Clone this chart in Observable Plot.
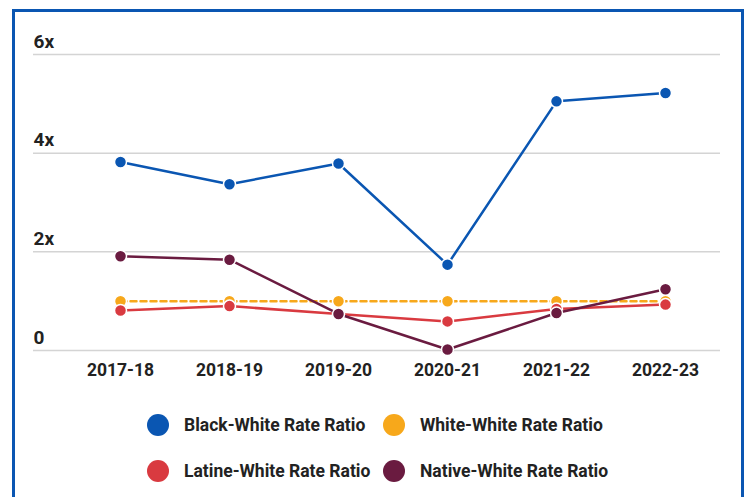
<!DOCTYPE html>
<html>
<head>
<meta charset="utf-8">
<script src="https://cdn.jsdelivr.net/npm/d3@7"></script>
<script src="https://cdn.jsdelivr.net/npm/@observablehq/plot@0.6"></script>
<style>
  html, body { margin: 0; padding: 0; background: #fff; width: 748px; height: 497px; overflow: hidden; }
  body { position: relative; font-family: Roboto, "Liberation Sans", sans-serif; }
  #frame { position: absolute; left: 12px; top: 9px; width: 726px; height: 520px; border: 3px solid #0a56b2; pointer-events: none; }
  #chart { position: absolute; left: 0; top: 0; }
  #legend { position: absolute; left: 0; top: 0; width: 748px; }
  .item { position: absolute; display: flex; align-items: center; font-weight: 700; font-size: 17.5px; color: #222; white-space: nowrap; }
  .sw { width: 22px; height: 22px; border-radius: 50%; margin-right: 15px; flex: none; }
</style>
</head>
<body>
<div id="chart"></div>
<div id="legend"></div>
<div id="frame"></div>
<script>
const years = ["2017-18", "2018-19", "2019-20", "2020-21", "2021-22", "2022-23"];
const seriesNames = ["White-White Rate Ratio", "Latine-White Rate Ratio", "Native-White Rate Ratio", "Black-White Rate Ratio"];
const seriesColors = ["#f7a81b", "#d93a40", "#6a1b40", "#0a56b2"];
const blackWhite = [3.82, 3.37, 3.79, 1.74, 5.05, 5.22];
const whiteWhite = [1.0, 1.0, 1.0, 1.0, 1.0, 1.0];
const latineWhite = [0.81, 0.90, 0.74, 0.59, 0.84, 0.93];
const nativeWhite = [1.91, 1.84, 0.74, 0.02, 0.76, 1.24];
const yTicks = [0, 2, 4, 6];
const yTickLabels = ["0", "2x", "4x", "6x"];
const legendOrder = ["Black-White Rate Ratio", "White-White Rate Ratio", "Latine-White Rate Ratio", "Native-White Rate Ratio"];

const valuesBySeries = {
  "White-White Rate Ratio": whiteWhite,
  "Latine-White Rate Ratio": latineWhite,
  "Native-White Rate Ratio": nativeWhite,
  "Black-White Rate Ratio": blackWhite
};
const data = seriesNames.flatMap(s => years.map((y, i) => ({series: s, year: y, value: valuesBySeries[s][i]})));
const colorOf = Object.fromEntries(seriesNames.map((s, i) => [s, seriesColors[i]]));

const marks = [
  Plot.ruleY(yTicks, {stroke: "#d4d4d4", strokeWidth: 1.5}),
  Plot.text(yTicks, {y: d => d, text: (d, i) => yTickLabels[i], frameAnchor: "left", textAnchor: "start", dy: -13, fontSize: 19, fontWeight: 700, fill: "#222"}),
  Plot.axisX({tickSize: 0, tickPadding: 13, fontSize: 17.5, fontWeight: 700, color: "#222", label: null})
];
for (const s of seriesNames) {
  const d = data.filter(r => r.series === s);
  marks.push(Plot.line(d, {x: "year", y: "value", stroke: colorOf[s], strokeWidth: 2.5,
    strokeDasharray: s.startsWith("White") ? "6,4" : null}));
  marks.push(Plot.dot(d, {x: "year", y: "value", r: 6, fill: colorOf[s], stroke: "white", strokeWidth: 1.5}));
}

const plot = Plot.plot({
  width: 748,
  height: 395,
  marginTop: 54,
  marginBottom: 45,
  marginLeft: 33,
  marginRight: 28,
  style: {fontFamily: "Roboto, 'Liberation Sans', sans-serif", background: "white"},
  x: {type: "point", domain: years, padding: 0, insetLeft: 85, insetRight: 54, label: null, axis: null},
  y: {domain: [0, 6], label: null, axis: null},
  marks
});
document.getElementById("chart").appendChild(plot);

const legendPos = [[147, 425], [383, 425], [147, 471], [383, 471]];
const legend = document.getElementById("legend");
legendOrder.forEach((s, i) => {
  const el = document.createElement("div");
  el.className = "item";
  el.style.left = legendPos[i][0] + "px";
  el.style.top = (legendPos[i][1] - 11) + "px";
  el.innerHTML = `<span class="sw" style="background:${colorOf[s]}"></span><span>${s}</span>`;
  legend.appendChild(el);
});
</script>
</body>
</html>
